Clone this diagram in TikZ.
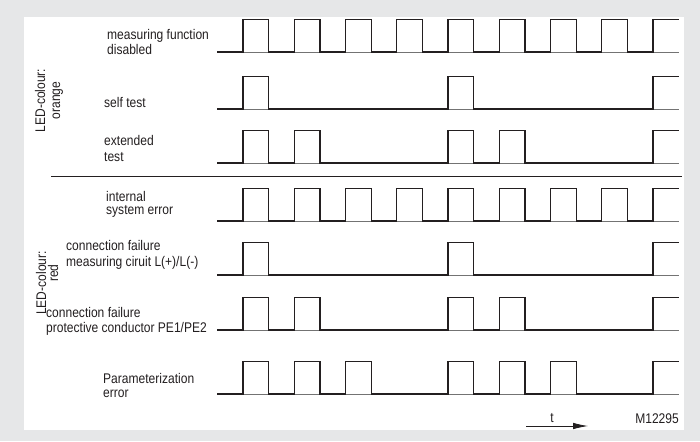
\documentclass[tikz,border=0pt]{standalone}
\usepackage{fontspec}
\setmainfont{Liberation Sans}[FakeStretch=0.86]
\usetikzlibrary{arrows.meta}
\definecolor{bggray}{HTML}{E6E7E8}
\definecolor{ink}{HTML}{231F20}
\newcommand\sigrow[3]{% #1 low y, #2 list of pulse indices, #3 style
  \draw[baseln] (217,#1) -- (679,#1);
  \draw[sig] (217,#1) foreach \k in {#2} { -- (243+51.25*\k,#1) -- ++(0,-32.5) -- ++(25.75,0) -- ++(0,32.5) }
    -- (653,#1) -- ++(0,-32.5) -- (679,#1-32.5);
}
\begin{document}
\begin{tikzpicture}[x=1pt,y=-1pt,
  sig/.style={line width=1.25pt,ink,line join=miter},
  baseln/.style={line width=0.7pt,black!55},
  lbl/.style={anchor=base west,inner sep=0pt,align=left,font=\fontsize{14}{15.5}\selectfont,text=ink},
  grp/.style={rotate=90,inner sep=0pt,align=center,font=\fontsize{14}{15}\selectfont,text=ink}]
\useasboundingbox (0,0) rectangle (700,441);
\fill[bggray] (0,0) rectangle (700,441);
\fill[white] (24,17) rectangle (684,430);
% signals
\sigrow{52}{0,1,2,3,4,5,6,7}{}
\sigrow{109}{0,4}{}
\sigrow{163}{0,1,4,5}{}
\sigrow{221}{0,1,2,3,4,5,6,7}{}
\sigrow{275}{0,4}{}
\sigrow{330}{0,1,4,5}{}
\sigrow{394}{0,1,2,4,5,6}{}
% separator
\coordinate (sepL) at (51,176);
\coordinate (sepR) at (682,176);
\draw[line width=0.9pt,ink] (sepL) -- (sepR);
% labels (base anchor = baseline of last line)
\node[lbl] (l1) at (107,55) {measuring function\\disabled};
\node[lbl] (l2) at (104,107) {self test};
\node[lbl] (l3) at (104,161) {extended\\test};
\node[lbl] (l4) at (106,214) {internal\\[-3pt]system error};
\node[lbl] (l5) at (66,266) {connection failure\\measuring ciruit L(+)/L(-)};
\node[lbl] (l6) at (46,332) {connection failure\\[-0.5pt]protective conductor PE1/PE2};
\node[lbl] (l7) at (103,397) {Parameterization\\[-1.5pt]error};
\node[grp] (g1) at (49,100.5) {LED-colour:\\orange};
\node[grp] (g2) at (47,283) {LED-colour:\\[-3pt]\hspace*{20pt}red};
% time arrow
\coordinate (ta) at (526,426);
\coordinate (tb) at (588,426);
\draw[line width=0.8pt,ink,-{Latex[length=15pt,width=6.5pt]}] (ta) -- (tb);
\node[anchor=base,inner sep=0pt,font=\fontsize{14}{16}\selectfont,text=ink] (t) at (552,422) {t};
\node[anchor=base east,inner sep=0pt,font=\fontsize{14}{16}\selectfont,text=ink] (code) at (679,423) {M12295};
\end{tikzpicture}
\end{document}
